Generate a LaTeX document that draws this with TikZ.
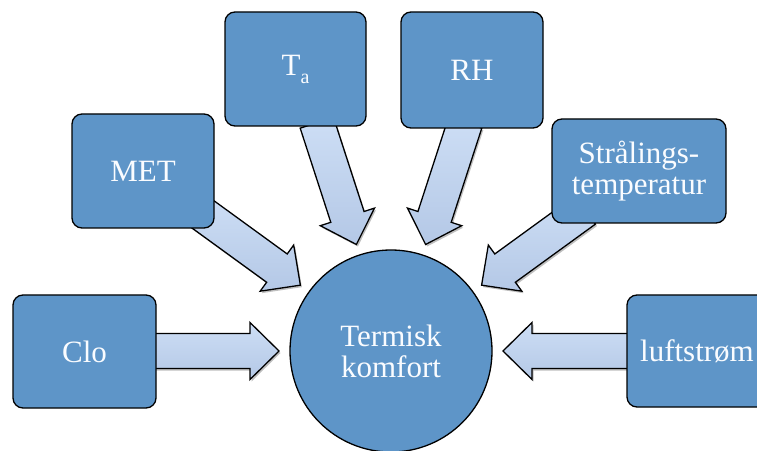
\documentclass[tikz,border=0pt]{standalone}
\usepackage{fontspec}
\setmainfont{Liberation Serif}
\usetikzlibrary{shadows,calc}
\definecolor{boxblue}{HTML}{5E95C8}
\definecolor{arrtop}{HTML}{CDDEF5}
\definecolor{arrbot}{HTML}{B4C8E6}
\definecolor{txtwhite}{HTML}{FAFCFF}
\tikzset{
  infobox/.style={draw=black, line width=1.3pt, rounded corners=10pt, fill=boxblue,
    text=txtwhite, font=\fontsize{31}{32}\selectfont, align=center, inner sep=0pt},
  hub/.style={circle, draw=black, line width=1.3pt, fill=boxblue, text=txtwhite,
    font=\fontsize{31}{31}\selectfont, align=center, minimum size=202pt, inner sep=0pt},
  blockarr/.style={draw=black, line width=1.3pt, line join=miter, top color=arrtop, bottom color=arrbot,
    drop shadow={shadow xshift=1.5pt, shadow yshift=-2pt, opacity=0.25, fill=black}}
}
\newcommand\radialarrow[2]{%
  \coordinate (#2) at ($(hubc)+(#1:112pt)$);
  \path[blockarr] (#2)
    -- ($(hubc)+(#1:141pt)+(#1+90:28.5pt)$)
    -- ($(hubc)+(#1:141pt)+(#1+90:17.5pt)$)
    -- ($(hubc)+(#1:240pt)+(#1+90:17.5pt)$)
    -- ($(hubc)+(#1:240pt)+(#1-90:17.5pt)$)
    -- ($(hubc)+(#1:141pt)+(#1-90:17.5pt)$)
    -- ($(hubc)+(#1:141pt)+(#1-90:28.5pt)$)
    -- cycle;}
\begin{document}
\begin{tikzpicture}[x=1pt,y=1pt]
\useasboundingbox (0,0) rectangle (757,450);
\clip (0,0) rectangle (757,450);
\coordinate (hubc) at (391,99);
\radialarrow{180}{tipclo}
\radialarrow{144}{tipmet}
\radialarrow{108}{tipta}
\radialarrow{72}{tiprh}
\radialarrow{36}{tipstr}
\radialarrow{0}{tipluft}
\node[infobox, minimum width=143pt, minimum height=113pt] (clo) at (84.5,98.5) {Clo};
\node[infobox, minimum width=142pt, minimum height=114pt] (met) at (143,279) {MET};
\node[infobox, minimum width=141pt, minimum height=114pt] (ta) at (295.5,381) {T\raisebox{-8pt}{\fontsize{20}{20}\selectfont a}};
\node[infobox, minimum width=142pt, minimum height=116pt] (rh) at (472,380) {RH};
\node[infobox, minimum width=174pt, minimum height=104pt] (str) at (639,279) {Strålings-\\[-1pt]temperatur};
\node[infobox, minimum width=140pt, minimum height=112pt] (luft) at (697,99) {luftstrøm};
\node[hub] (hub) at (hubc) {Termisk\\komfort};
\end{tikzpicture}
\end{document}
